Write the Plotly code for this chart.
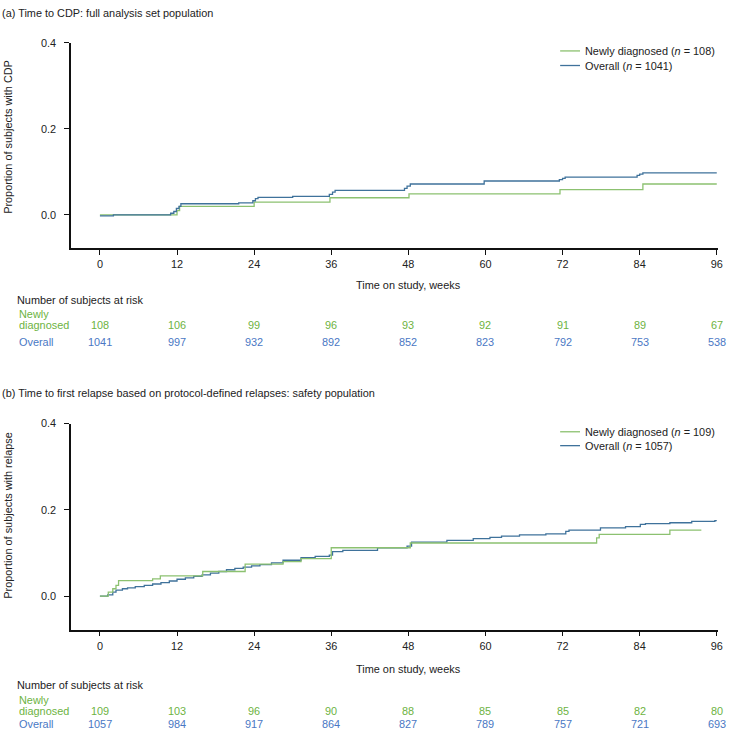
import plotly.graph_objects as go

W, H = 732, 729

# ---------------- data ----------------
weeks_ticks = [0, 12, 24, 36, 48, 60, 72, 84, 96]

# Panel (a): time to CDP
cdp_overall_t = [0, 2.1, 11.0, 11.5, 11.9, 12.3, 12.6, 21.6, 23.8, 24.2, 24.6, 30.0, 35.7, 36.2, 36.6,
                 47.4, 47.8, 48.3, 59.8, 71.5, 72.0, 72.4, 83.6, 84.0, 84.5, 96.0]
cdp_overall_v = [-0.002, 0.0, 0.004, 0.008, 0.015, 0.020, 0.026, 0.028, 0.033, 0.038, 0.041, 0.043, 0.048, 0.053, 0.057,
                 0.062, 0.067, 0.072, 0.079, 0.082, 0.085, 0.088, 0.092, 0.095, 0.098, 0.098]
cdp_new_t = [0, 12.0, 12.4, 24.0, 35.8, 48.1, 71.6, 84.5, 96.0]
cdp_new_v = [0, 0.010, 0.020, 0.030, 0.040, 0.049, 0.059, 0.072, 0.072]

# Panel (b): time to first relapse
rel_overall_t = [0, 1.2, 2.0, 2.5, 3.5, 4.3, 5.5, 6.9, 8.2, 9.5, 10.8, 12.0, 13.3, 14.6, 15.9, 17.2, 18.5,
                 19.7, 21.0, 22.3, 23.6, 24.9, 26.7, 28.5, 31.3, 33.5, 35.7, 36.2, 37.8, 43.2, 47.8, 48.5,
                 54.0, 58.1, 60.7, 62.5, 65.3, 69.4, 72.5, 73.0, 77.9, 81.8, 84.1, 84.9, 88.7, 92.1, 95.7, 96.0]
rel_overall_v = [0, 0.003, 0.009, 0.014, 0.017, 0.019, 0.022, 0.025, 0.028, 0.031, 0.035, 0.039, 0.042, 0.046,
                 0.049, 0.053, 0.057, 0.061, 0.064, 0.067, 0.070, 0.073, 0.077, 0.083, 0.089, 0.092, 0.095,
                 0.103, 0.106, 0.112, 0.116, 0.125, 0.129, 0.133, 0.136, 0.139, 0.142, 0.144, 0.150, 0.153,
                 0.158, 0.161, 0.166, 0.168, 0.170, 0.173, 0.175, 0.175]
rel_new_t = [0, 1.3, 2.0, 2.5, 2.9, 8.2, 9.4, 16.0, 22.6, 28.5, 31.3, 36.0, 48.3, 77.3, 77.7, 88.7, 93.6]
rel_new_v = [0, 0.009, 0.017, 0.025, 0.036, 0.040, 0.047, 0.057, 0.074, 0.080, 0.087, 0.112, 0.123, 0.135,
             0.143, 0.153, 0.153]

risk_a_new = [108, 106, 99, 96, 93, 92, 91, 89, 67]
risk_a_overall = [1041, 997, 932, 892, 852, 823, 792, 753, 538]
risk_b_new = [109, 103, 96, 90, 88, 85, 85, 82, 80]
risk_b_overall = [1057, 984, 917, 864, 827, 789, 757, 721, 693]

legend_a = ["Newly diagnosed (<i>n</i> = 108)", "Overall (<i>n</i> = 1041)"]
legend_b = ["Newly diagnosed (<i>n</i> = 109)", "Overall (<i>n</i> = 1057)"]

# ---------------- styles ----------------
GREEN_LINE = "#8cc170"
BLUE_LINE = "#3f729b"
GREEN_TXT = "#6db33f"
BLUE_TXT = "#4a78c4"
TXT = "#222222"
FONT = "Liberation Sans, Arial, sans-serif"
FS = 10.9


def px(x):
    return x / W


def py(y):
    return 1 - y / H


fig = go.Figure()

fig.add_trace(go.Scatter(x=cdp_new_t, y=cdp_new_v, mode="lines", line=dict(color=GREEN_LINE, width=1.3, shape="hv"),
                         xaxis="x", yaxis="y", showlegend=False, hoverinfo="skip"))
fig.add_trace(go.Scatter(x=cdp_overall_t, y=cdp_overall_v, mode="lines", line=dict(color=BLUE_LINE, width=1.3, shape="hv"),
                         xaxis="x", yaxis="y", showlegend=False, hoverinfo="skip"))
fig.add_trace(go.Scatter(x=rel_overall_t, y=rel_overall_v, mode="lines", line=dict(color=BLUE_LINE, width=1.3, shape="hv"),
                         xaxis="x2", yaxis="y2", showlegend=False, hoverinfo="skip"))
fig.add_trace(go.Scatter(x=rel_new_t, y=rel_new_v, mode="lines", line=dict(color=GREEN_LINE, width=1.3, shape="hv"),
                         xaxis="x2", yaxis="y2", showlegend=False, hoverinfo="skip"))

xdom = [px(71.5), px(723)]
xrange_ = [-4.5, 96.2]
yrange_ = [-0.078, 0.4]

xaxis_common = dict(range=xrange_, domain=xdom, showline=True, linecolor="#111", linewidth=1.5,
                    ticks="outside", ticklen=5, tickwidth=1.2, tickcolor="#111",
                    tickvals=weeks_ticks, ticktext=[str(v) for v in weeks_ticks],
                    showgrid=False, zeroline=False, tickfont=dict(family=FONT, size=FS, color=TXT),
                    fixedrange=True)
yaxis_common = dict(range=yrange_, showline=True, linecolor="#111", linewidth=1.5,
                    ticks="outside", ticklen=5, tickwidth=1.2, tickcolor="#111",
                    tickvals=[0, 0.2, 0.4], ticktext=["0.0", "0.2", "0.4"], ticklabelstandoff=6,
                    showgrid=False, zeroline=False, tickfont=dict(family=FONT, size=FS, color=TXT),
                    fixedrange=True)

fig.update_layout(
    width=W, height=H,
    margin=dict(l=0, r=0, t=0, b=0),
    paper_bgcolor="white", plot_bgcolor="white",
    showlegend=False,
    font=dict(family=FONT, size=FS, color=TXT),
    xaxis=dict(**xaxis_common, anchor="y"),
    yaxis=dict(**yaxis_common, domain=[py(244.5), py(37.3)], anchor="x"),
    xaxis2=dict(**xaxis_common, anchor="y2"),
    yaxis2=dict(**yaxis_common, domain=[py(628.9), py(421)], anchor="x2"),
)

ann = []


def text(x, y, s, color=TXT, xanchor="left", xref="paper", angle=0, size=FS):
    ann.append(dict(x=x, y=y, xref=xref, yref="paper", text=s, showarrow=False, xanchor=xanchor,
                    yanchor="middle", textangle=angle, font=dict(family=FONT, size=size, color=color)))


# Panel titles
text(px(0), py(7), "(a) Time to CDP: full analysis set population")
text(px(0), py(390), "(b) Time to first relapse based on protocol-defined relapses: safety population")

# Y axis titles
text(px(8), py(132), "Proportion of subjects with CDP", xanchor="center", angle=-90)
text(px(8), py(514), "Proportion of subjects with relapse", xanchor="center", angle=-90)

# X axis titles
text(48, py(281), "Time on study, weeks", xanchor="center", xref="x")
text(48, py(669), "Time on study, weeks", xanchor="center", xref="x2")

# Risk tables
for (xr, base, new, overall) in [("x", 0, risk_a_new, risk_a_overall), ("x2", 389, risk_b_new, risk_b_overall)]:
    text(px(15), py(base + 296), "Number of subjects at risk")
    text(px(17), py(base + 311), "Newly", color=GREEN_TXT)
    text(px(17), py(base + 322), "diagnosed", color=GREEN_TXT)
    row2 = min(base + 339, 724)
    text(px(17), py(row2), "Overall", color=BLUE_TXT)
    for t, n1, n2 in zip(weeks_ticks, new, overall):
        text(t, py(base + 322), str(n1), color=GREEN_TXT, xanchor="center", xref=xr)
        text(t, py(row2), str(n2), color=BLUE_TXT, xanchor="center", xref=xr)

# Legends (manual, compact)
shapes = []
for (y1, y2, labels) in [(45.3, 60.0, legend_a), (429.3, 443.3, legend_b)]:
    for yy, col, lab in [(y1, GREEN_LINE, labels[0]), (y2, BLUE_LINE, labels[1])]:
        shapes.append(dict(type="line", xref="paper", yref="paper", x0=px(564), x1=px(584), y0=py(yy), y1=py(yy),
                           line=dict(color=col, width=1.3)))
        text(px(587), py(yy), lab)

fig.update_layout(annotations=ann, shapes=shapes)

post = ("document.documentElement.style.margin='0';document.body.style.margin='0';"
        "document.body.style.overflow='hidden';"
        "var gd=document.getElementById('{plot_id}');gd.style.position='fixed';"
        "gd.style.top='0px';gd.style.left='0px';")

fig.write_html("out.html", config={"displayModeBar": False}, post_script=post)
